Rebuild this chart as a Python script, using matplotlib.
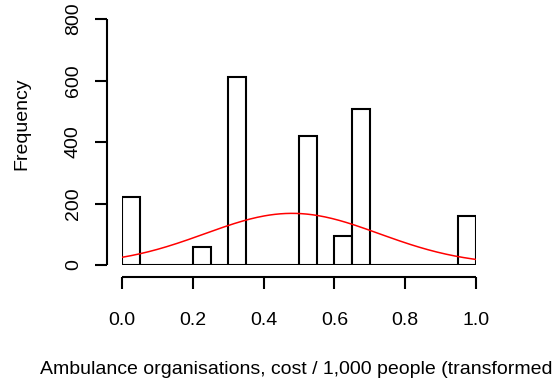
import numpy as np
import matplotlib
matplotlib.use("Agg")
import matplotlib.pyplot as plt

# histogram bins (width 0.05) and counts
bin_edges = np.round(np.arange(0, 1.0001, 0.05), 2)
counts = [220, 0, 0, 0, 60, 0, 610, 0, 0, 0,
          420, 0, 95, 507, 0, 0, 0, 0, 0, 160]
x_ticks = [0.0, 0.2, 0.4, 0.6, 0.8, 1.0]
y_ticks = [0, 200, 400, 600, 800]
x_label = "Ambulance organisations, cost / 1,000 people (transformed)"
y_label = "Frequency"

plt.rcParams['font.family'] = ['Liberation Sans', 'DejaVu Sans']

W, H = 552, 385
fig = plt.figure(figsize=(W / 100, H / 100), dpi=100)
# plot region in pixels: x 0..1 -> 122..476, y 0..800 -> 265..19
ax = fig.add_axes([122 / W, 1 - 265 / H, (476 - 122) / W, (265 - 19) / H])

lw = 1.5
mids = (bin_edges[:-1] + bin_edges[1:]) / 2
widths = np.diff(bin_edges)
ax.bar(bin_edges[:-1], counts, width=widths, align="edge",
       facecolor="white", edgecolor="black", linewidth=lw, zorder=2)

# normal curve fitted to the data, scaled to counts
n = np.sum(counts)
mean = np.sum(mids * counts) / n
sd = np.sqrt(np.sum(counts * (mids - mean) ** 2) / (n - 1))
xs = np.linspace(0, 1, 200)
ys = n * widths[0] * np.exp(-0.5 * ((xs - mean) / sd) ** 2) / (sd * np.sqrt(2 * np.pi))
ax.plot(xs, ys, color="red", linewidth=1.1, zorder=3)

ax.set_xlim(0, 1)
ax.set_ylim(0, 800)
for s in ["top", "right"]:
    ax.spines[s].set_visible(False)
ax.spines["left"].set_position(("outward", 10.8))
ax.spines["bottom"].set_position(("outward", 8.6))
ax.spines["left"].set_bounds(0, 800)
ax.spines["bottom"].set_bounds(0, 1)
for s in ["left", "bottom"]:
    ax.spines[s].set_linewidth(lw)
    ax.spines[s].set_capstyle("butt")

ax.set_xticks(x_ticks)
ax.set_xticklabels([f"{v:.1f}" for v in x_ticks])
ax.set_yticks(y_ticks)
ax.set_yticklabels([str(v) for v in y_ticks], rotation=90, va="center")
ax.tick_params(axis="both", length=8.6, width=lw, labelsize=14, color="black")
ax.tick_params(axis="x", pad=16.5)
ax.tick_params(axis="y", pad=9.5)

fig.text(299 / W, 1 - 370 / H, x_label, ha="center", va="center", fontsize=14)
fig.text(22 / W, 1 - 124 / H, y_label, ha="center", va="center",
         rotation=90, fontsize=14)

fig.savefig("out.png", dpi=100)
